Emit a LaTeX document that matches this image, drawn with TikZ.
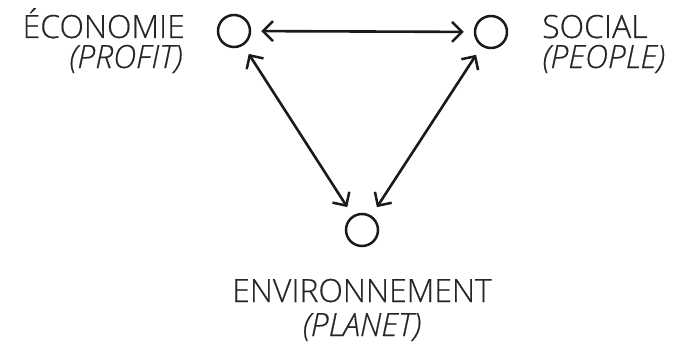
\documentclass[tikz,border=0pt]{standalone}
\usepackage{fontspec}
\setmainfont{Open Sans}[UprightFont=* Light, ItalicFont=* Light Italic,
  UprightFeatures={FakeBold=0.4}, ItalicFeatures={FakeBold=0.4}]
\usetikzlibrary{arrows.meta}
\definecolor{ink}{HTML}{1A1A1A}
\definecolor{type}{HTML}{262626}
\begin{document}
\begin{tikzpicture}[x=1pt,y=-1pt,
  pole/.style={circle, draw=ink, line width=2.5pt, minimum size=32pt, inner sep=0pt},
  barb/.tip={Straight Barb[length=10pt,width=20pt,line width=2.5pt]},
  link/.style={draw=ink, line width=2.6pt, barb-barb,
    shorten >=10pt, shorten <=10pt},
  lbl/.style={font=\fontsize{32}{36}\selectfont, text=type, inner sep=0pt},
  sub/.style={lbl, font=\fontsize{32}{36}\selectfont\itshape}]
\useasboundingbox (0,0) rectangle (696,345);

% the three poles
\node[pole] (eco) at (234,31) {};
\node[pole] (soc) at (491,32) {};
\node[pole] (env) at (362,230) {};

% two-way links between the poles
\draw[link] (eco) -- (soc);
\draw[link] (eco) -- (env);
\draw[link] (soc) -- (env);

% labels
\node[lbl, anchor=base east] (ecoA) at (185,38) {ÉCONOMIE};
\node[sub, anchor=base east] (ecoB) at (183,68) {(PROFIT)};
\node[lbl, anchor=base west] (socA) at (542,38) {SOCIAL};
\node[sub, anchor=base west] (socB) at (542,68) {(PEOPLE)};
\node[lbl, anchor=base] (envA) at (362,302) {ENVIRONNEMENT};
\node[sub, anchor=base] (envB) at (362,336) {(PLANET)};
\end{tikzpicture}
\end{document}
